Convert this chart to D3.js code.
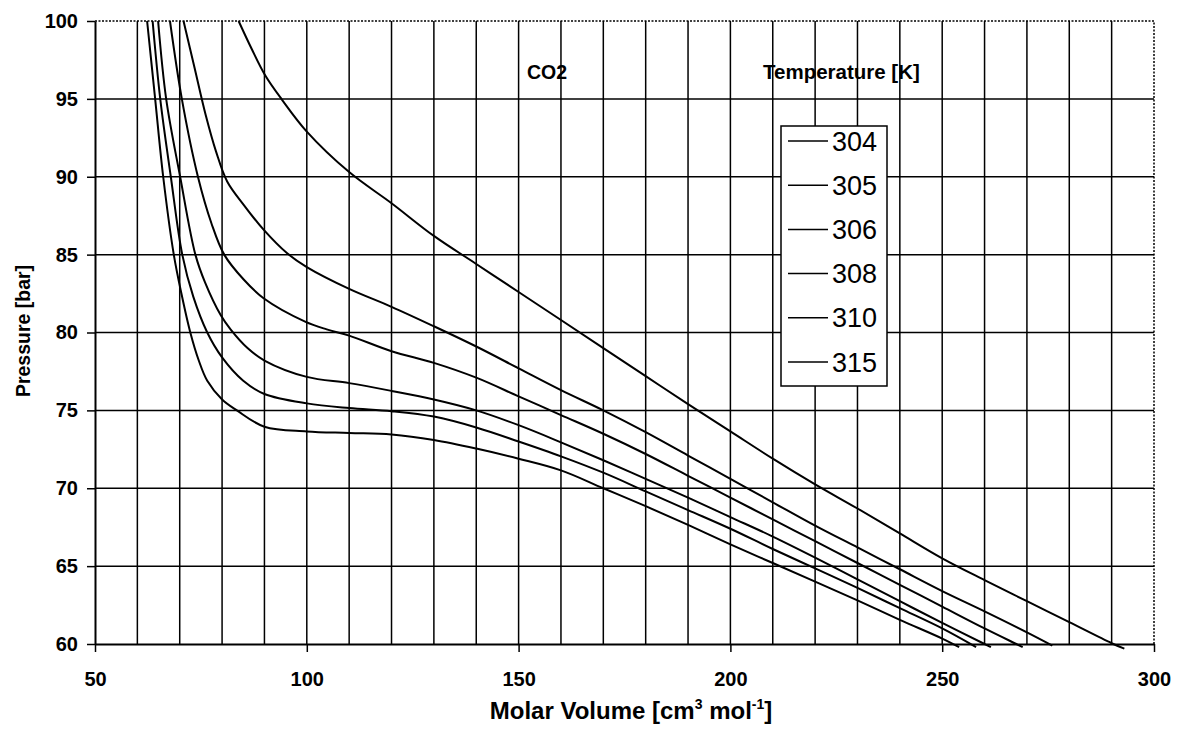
<!DOCTYPE html>
<html>
<head>
<meta charset="utf-8">
<script src="https://cdn.jsdelivr.net/npm/d3@7"></script>
<style>
  body { margin: 0; background: #fff; }
  text { font-family: "Liberation Sans", Arial, sans-serif; fill: #000; }
</style>
</head>
<body>
<div id="chart"></div>
<script>
// isotherms of CO2, [molar volume, pressure]
const temps = [304, 305, 306, 308, 310, 315];

const iso304 = [[62.3,100],[64.2,95],[66.1,90],[68.6,85],[70.4,82.5],[72.5,80],[74.5,78.2],[76.5,76.9],[80,75.7],[83.5,75.0],
  [90,73.95],[100,73.65],[110,73.55],[120,73.45],[130,73.1],[140,72.55],[150,71.9],[160,71.15],[170,70.0],
  [180,68.85],[190,67.65],[200,66.4],[210,65.2],[220,64.0],[230,62.8],[240,61.55],[250,60.35],[254,59.8]];
const iso305 = [[63.6,100],[65.4,95],[67.9,90],[70.6,85],[73.2,82.3],[76.5,80],[80,78.4],[85,76.9],[90,76.05],
  [100,75.45],[110,75.15],[120,74.95],[130,74.6],[140,73.9],[150,73.0],[160,72.05],[170,71.0],[180,69.8],
  [190,68.6],[200,67.4],[210,66.1],[220,64.85],[230,63.6],[240,62.3],[250,61.0],[258,59.8]];
const iso306 = [[64.9,100],[66.8,95],[70.1,90],[73.7,85],[76,83.2],[79.7,81.1],[82,80.2],[86,79.0],[90,78.2],
  [100,77.15],[110,76.75],[120,76.25],[130,75.7],[140,75.0],[150,74.05],[160,72.95],[170,71.8],[180,70.6],
  [190,69.4],[200,68.15],[210,66.9],[220,65.55],[230,64.15],[240,62.75],[250,61.35],[260,60.0],[261.5,59.8]];
const iso308 = [[67.7,100],[70.5,95],[74.3,90],[77.5,87],[80.5,85],[85.1,83.4],[89.8,82.2],[99.6,80.7],[104.7,80.2],
  [110,79.8],[120,78.8],[130,78.05],[140,77.1],[150,75.9],[160,74.7],[170,73.5],[180,72.2],[190,70.8],
  [200,69.4],[210,68.0],[220,66.6],[230,65.2],[240,63.8],[250,62.4],[260,61.0],[267.5,60.0],[269,59.8]];
const iso310 = [[70.9,100],[73.5,97],[76.1,94],[78.6,91.6],[81.2,89.7],[85.1,88.2],[89.8,86.6],[95.3,85.1],[100,84.2],[110,82.8],
  [120,81.65],[130,80.4],[140,79.1],[150,77.7],[160,76.3],[170,75.0],[180,73.6],[190,72.1],[200,70.6],
  [210,69.1],[220,67.6],[230,66.2],[240,64.8],[250,63.4],[260,62.1],[270,60.75],[276,59.9]];
const iso315 = [[83.9,100],[87,98.2],[90.2,96.5],[94,95],[100,92.9],[110,90.3],[120,88.3],[130,86.2],[140,84.4],
  [150,82.6],[160,80.8],[170,79.0],[180,77.2],[190,75.4],[200,73.65],[210,71.9],[220,70.25],[230,68.7],
  [240,67.1],[250,65.5],[260,64.1],[270,62.75],[280,61.4],[290,60.05],[293,59.7]];

const isotherms = [iso304, iso305, iso306, iso308, iso310, iso315];

const xTicks = [50, 100, 150, 200, 250, 300];
const yTicks = [60, 65, 70, 75, 80, 85, 90, 95, 100];
const xGrid = [60, 70, 80, 90, 100, 110, 120, 130, 140, 150, 160, 170, 180, 190, 200, 210, 220, 230, 240, 250, 260, 270, 280, 290];
const yGrid = [65, 70, 75, 80, 85, 90, 95];

const width = 1180, height = 748;
const plot = {left: 95, right: 1154, top: 21, bottom: 644};

const svg = d3.select("#chart").append("svg")
    .attr("width", width)
    .attr("height", height);

svg.append("rect").attr("width", width).attr("height", height).attr("fill", "#fff");

const x = d3.scaleLinear().domain([50, 300]).range([plot.left, plot.right]);
const y = d3.scaleLinear().domain([60, 100]).range([plot.bottom, plot.top]);

// grid
svg.append("g").selectAll("line")
  .data(xGrid).enter().append("line")
    .attr("x1", d => x(d)).attr("x2", d => x(d))
    .attr("y1", plot.top).attr("y2", plot.bottom)
    .attr("stroke", "#000").attr("stroke-width", 1.5);

svg.append("g").selectAll("line")
  .data(yGrid).enter().append("line")
    .attr("x1", plot.left).attr("x2", plot.right)
    .attr("y1", d => y(d)).attr("y2", d => y(d))
    .attr("stroke", "#000").attr("stroke-width", 1.5);

// dotted frame top / right
svg.append("path")
    .attr("d", `M${plot.left},${plot.top}H${plot.right}V${plot.bottom}`)
    .attr("fill", "none")
    .attr("stroke", "#000")
    .attr("stroke-width", 1.5)
    .attr("stroke-dasharray", "2,1.5");

// curves
const line = d3.line()
    .x(d => x(d[0]))
    .y(d => y(d[1]))
    .curve(d3.curveCatmullRom.alpha(0.5));

svg.append("g").selectAll("path")
  .data(isotherms).enter().append("path")
    .attr("d", line)
    .attr("fill", "none")
    .attr("stroke", "#000")
    .attr("stroke-width", 2);

// axes
const xAxis = svg.append("g")
    .attr("transform", `translate(0,${plot.bottom})`)
    .call(d3.axisBottom(x).tickValues(xTicks).tickSize(8).tickSizeOuter(0).tickPadding(20));

const yAxis = svg.append("g")
    .attr("transform", `translate(${plot.left},0)`)
    .call(d3.axisLeft(y).tickValues(yTicks).tickSize(8).tickSizeOuter(0).tickPadding(9));

[xAxis, yAxis].forEach(a => {
  a.select(".domain").attr("stroke", "#000").attr("stroke-width", 2);
  a.selectAll(".tick line").attr("stroke", "#000").attr("stroke-width", 1.5);
  a.selectAll(".tick text")
    .attr("font-family", "Liberation Sans, Arial, sans-serif")
    .attr("font-size", 20)
    .attr("font-weight", "bold")
    .attr("fill", "#000");
});

// axis titles
svg.append("text")
    .attr("transform", "translate(30,331) rotate(-90)")
    .attr("text-anchor", "middle")
    .attr("font-size", 19.5)
    .attr("font-weight", "bold")
    .text("Pressure [bar]");

const xt = svg.append("text")
    .attr("x", 631).attr("y", 719)
    .attr("text-anchor", "middle")
    .attr("font-size", 24)
    .attr("font-weight", "bold");
xt.append("tspan").text("Molar Volume [cm");
xt.append("tspan").attr("font-size", 14).attr("dy", -10).text("3");
xt.append("tspan").attr("dy", 10).text(" mol");
xt.append("tspan").attr("font-size", 14).attr("dy", -10).text("-1");
xt.append("tspan").attr("dy", 10).text("]");

// annotations
svg.append("text")
    .attr("x", 527).attr("y", 79)
    .attr("font-size", 19.5)
    .attr("font-weight", "bold")
    .text("CO2");

svg.append("text")
    .attr("x", 763).attr("y", 79)
    .attr("font-size", 20.5)
    .attr("font-weight", "bold")
    .text("Temperature [K]");

// legend
const legend = svg.append("g");
legend.append("rect")
    .attr("x", 781).attr("y", 126)
    .attr("width", 106).attr("height", 260)
    .attr("fill", "#fff")
    .attr("stroke", "#000")
    .attr("stroke-width", 1.5);

const item = legend.selectAll("g.item")
  .data(temps).enter().append("g")
    .attr("class", "item")
    .attr("transform", (d, i) => `translate(0,${141 + i * 44.2})`);

item.append("line")
    .attr("x1", 788).attr("x2", 828)
    .attr("stroke", "#000").attr("stroke-width", 1.5);

item.append("text")
    .attr("x", 832).attr("y", 9.5)
    .attr("font-size", 27)
    .text(d => d);
</script>
</body>
</html>
